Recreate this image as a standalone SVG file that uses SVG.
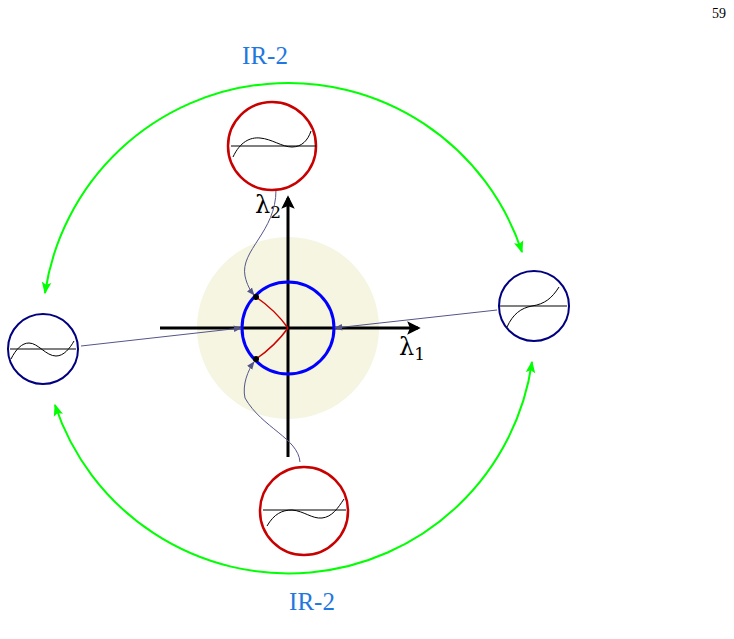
<svg xmlns="http://www.w3.org/2000/svg" width="734" height="639" viewBox="0 0 734 639">
<style>
.lbl{font-family:"Liberation Serif","DejaVu Serif",serif;fill:#1f78e0;font-size:25px}
.math{font-family:"DejaVu Serif","Liberation Serif",serif;fill:#000;font-size:24px}
.num{font-family:"Liberation Serif","DejaVu Serif",serif;fill:#000;font-size:14px}
.axis{stroke:#000;stroke-width:3;fill:none}
.conn{stroke:#55558a;stroke-width:1;fill:none}
.green{stroke:#00ff00;stroke-width:2;fill:none}
.rednode{fill:#fff;stroke:#c80000;stroke-width:2.5}
.bluenode{fill:#fff;stroke:#000080;stroke-width:2}
.plot{stroke:#000;stroke-width:1;fill:none}
.base{stroke:#000;stroke-width:1.2}
.gbase{stroke:#808080;stroke-width:2}
</style>
<defs>
<marker id="ax" viewBox="0 0 10 10" refX="8" refY="5" markerWidth="4.5" markerHeight="4.5" orient="auto" markerUnits="strokeWidth"><path d="M0,0 L10,5 L0,10 L2,5 z" fill="#000"/></marker>
<marker id="ga" viewBox="0 0 10 10" refX="9" refY="5" markerWidth="6" markerHeight="6" orient="auto-start-reverse" markerUnits="strokeWidth"><path d="M0,1 L10,5 L0,9 L2,5 z" fill="#00ff00"/></marker>
<marker id="ca" viewBox="0 0 10 10" refX="9" refY="5" markerWidth="8" markerHeight="8" orient="auto" markerUnits="strokeWidth"><path d="M0,1 L10,5 L0,9 z" fill="#55558a"/></marker>
</defs>
<rect width="734" height="639" fill="#fff"/>
<text class="num" x="719" y="18" text-anchor="middle">59</text>
<g id="background">
<circle cx="288" cy="328" r="91" fill="#f5f5e2"/>
</g>
<g id="axes">
<line class="axis" x1="160" y1="328" x2="418" y2="328" marker-end="url(#ax)"/>
<line class="axis" x1="288" y1="457" x2="288" y2="198" marker-end="url(#ax)"/>
<text class="math" x="399" y="355">λ<tspan font-size="17" dy="5">1</tspan></text>
<text class="math" x="255" y="213">λ<tspan font-size="17" dy="5">2</tspan></text>
</g>
<g id="unit-circle">
<circle cx="288" cy="328" r="46" fill="none" stroke="#0000ff" stroke-width="3"/>
</g>
<g id="connectors">
<path class="green" d="M45,293 A246,246 0 0 1 522,252" marker-start="url(#ga)" marker-end="url(#ga)"/>
<path class="green" d="M55,405 A246,246 0 0 0 532,362" marker-start="url(#ga)" marker-end="url(#ga)"/>
<path class="conn" d="M276,190 C276,232 240,250 245,276 C247,285 250,290 254,295" marker-end="url(#ca)"/>
<path class="conn" d="M300,462 C298,438 262,428 245,398 C242,385 248,370 254,362" marker-end="url(#ca)"/>
<path class="conn" d="M81,346 L241,328" marker-end="url(#ca)"/>
<path class="conn" d="M497,310 L335,328" marker-end="url(#ca)"/>
<path d="M256,297 Q275,310 288,328" fill="none" stroke="#cc0000" stroke-width="1.5"/>
<path d="M256,359 Q275,346 288,328" fill="none" stroke="#cc0000" stroke-width="1.5"/>
<circle cx="256" cy="297" r="3" fill="#000"/>
<circle cx="256" cy="359" r="3" fill="#000"/>
</g>
<g id="node-top">
<circle class="rednode" cx="272" cy="146" r="44"/>
<line class="base" x1="231" y1="146" x2="316" y2="146"/>
<path class="plot" d="M233,157 C240,142 250,137 260,138 C272,139 282,147 292,147 C302,147 308,140 311,131"/>
</g>
<g id="node-bottom">
<circle class="rednode" cx="304" cy="511" r="44"/>
<line class="base" x1="263" y1="510" x2="346" y2="510"/>
<path class="plot" d="M267,526 C274,514 282,510 292,510 C304,511 312,519 322,518 C332,517 338,508 344,499"/>
</g>
<g id="node-left">
<circle class="bluenode" cx="43" cy="349" r="35"/>
<line class="gbase" x1="10" y1="349" x2="76" y2="349"/>
<path class="plot" d="M11,359 C16,349 22,343 29,343 C38,343 46,356 56,356 C64,356 70,348 74,341"/>
</g>
<g id="node-right">
<circle class="bluenode" cx="534" cy="306" r="35"/>
<line class="gbase" x1="500" y1="306" x2="567" y2="306"/>
<path class="plot" d="M507,327 C513,314 521,308 532,306 C545,304 552,298 559,287"/>
</g>
<g id="labels">
<text class="lbl" x="265" y="64" text-anchor="middle">IR-2</text>
<text class="lbl" x="312" y="610" text-anchor="middle">IR-2</text>
</g>
</svg>
